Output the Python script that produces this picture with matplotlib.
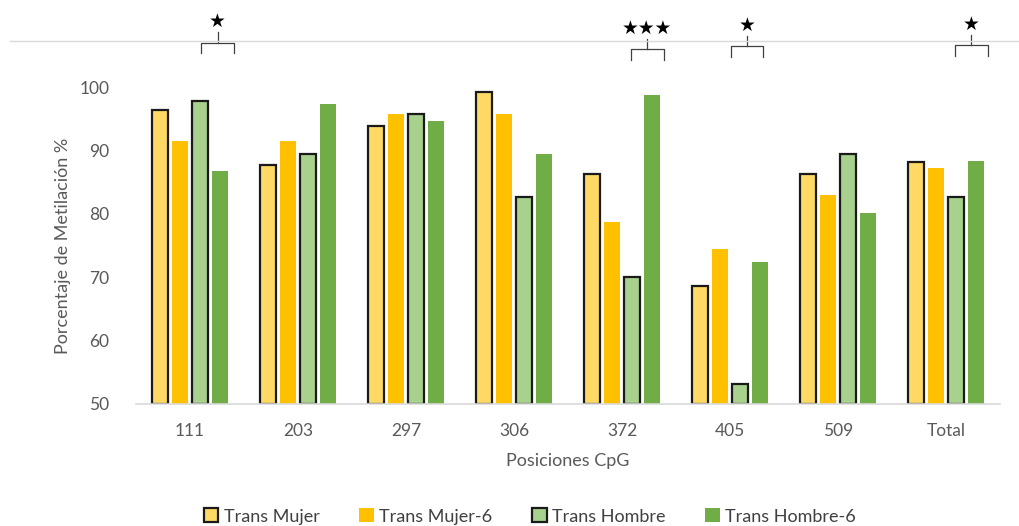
import matplotlib.pyplot as plt
import numpy as np

posiciones = ['111', '203', '297', '306', '372', '405', '509', 'Total']
trans_mujer = [96.3, 87.7, 93.8, 99.2, 86.2, 68.6, 86.2, 88.2]
trans_mujer_6 = [91.5, 91.5, 95.8, 95.8, 78.7, 74.4, 82.9, 87.2]
trans_hombre = [97.8, 89.4, 95.8, 82.6, 70.1, 53.1, 89.4, 82.6]
trans_hombre_6 = [86.8, 97.3, 94.6, 89.4, 98.7, 72.4, 80.1, 88.4]
significancia = ['★', '', '', '', '★★★', '★', '', '★']

plt.rcParams['font.family'] = ['Lato', 'DejaVu Sans']

fig = plt.figure(figsize=(10.19, 5.26), dpi=100)
ax = fig.add_axes([136 / 1019, 122 / 526, 864 / 1019, 317 / 526])

x = np.arange(len(posiciones))
w = 0.14
step = 0.185
series = [
    (trans_mujer, 'Trans Mujer', '#FFD966', True),
    (trans_mujer_6, 'Trans Mujer-6', '#FFC000', False),
    (trans_hombre, 'Trans Hombre', '#A9D18E', True),
    (trans_hombre_6, 'Trans Hombre-6', '#70AD47', False),
]
for i, (vals, name, color, edge) in enumerate(series):
    off = (i - 1.5) * step
    vals = np.array(vals)
    ax.bar(x + off, vals - 50, w, bottom=50, color=color, label=name,
           edgecolor='#1a1a1a' if edge else color,
           linewidth=1.6 if edge else 0)

ax.set_xlim(-0.5, len(posiciones) - 0.5)
ax.set_ylim(50, 100)
ax.set_yticks([50, 60, 70, 80, 90, 100])
ax.set_xticks(x)
ax.set_xticklabels(posiciones)
ax.tick_params(length=0, labelsize=12.5, colors='#595959', pad=14)
ax.tick_params(axis='y', pad=19)
for s in ['top', 'right', 'left']:
    ax.spines[s].set_visible(False)
ax.spines['bottom'].set_color('#D9D9D9')
ax.spines['bottom'].set_linewidth(1.2)
ax.set_xlabel('Posiciones CpG', fontsize=13, color='#595959', labelpad=10)
ax.set_ylabel('Porcentaje de Metilación %', fontsize=13, color='#595959', labelpad=6)

# significance brackets over the Trans Hombre / Trans Hombre-6 pairs
brackets = {0: (0.10, 0.41, 107.0), 4: (0.08, 0.39, 106.0),
            5: (0.01, 0.31, 106.4), 7: (0.08, 0.39, 106.6)}
for idx, (a, b, yb) in brackets.items():
    xa, xb = idx + a, idx + b
    xm = (xa + xb) / 2
    ax.plot([xa, xa, xb, xb], [yb - 1.7, yb, yb, yb - 1.7], color='#404040',
            lw=0.9, clip_on=False)
    ax.plot([xm, xm], [yb, yb + 1.6], color='#404040', lw=0.9, clip_on=False)
    ax.text(xm, yb + 1.8, significancia[idx], ha='center', va='bottom',
            fontsize=13.5, family=['DejaVu Sans'], color='black', clip_on=False)

# thin rule across the top
fig.add_artist(plt.Line2D([10 / 1019, 1], [1 - 41 / 526] * 2, color='#D9D9D9',
                          lw=1, transform=fig.transFigure))

fig.legend(loc='center', bbox_to_anchor=(0.52, 0.018), ncol=4, frameon=False,
           fontsize=13, handlelength=0.8, handleheight=0.8, handletextpad=0.3,
           columnspacing=2.2, labelcolor='#404040')

fig.savefig('out.png', dpi=100, facecolor='white')
